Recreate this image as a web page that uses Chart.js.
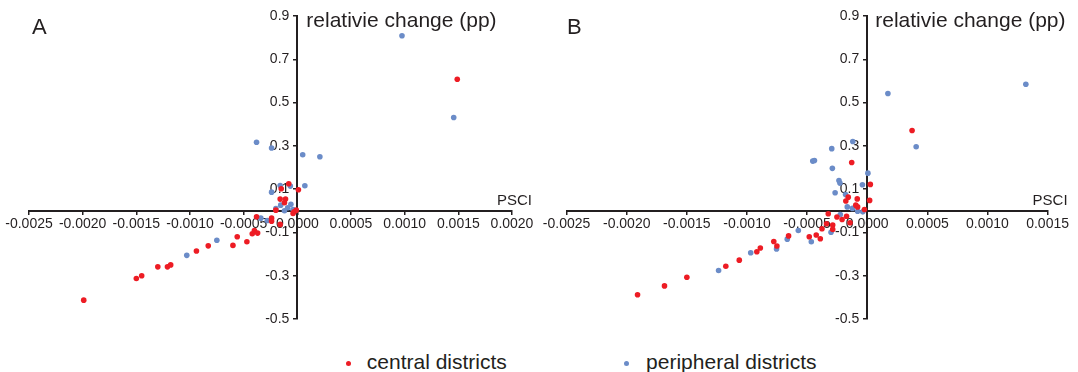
<!DOCTYPE html>
<html><head><meta charset="utf-8">
<script src="https://cdn.jsdelivr.net/npm/chart.js@4/dist/chart.umd.min.js"></script>
<style>
html,body{margin:0;padding:0;background:#fff;width:1078px;height:372px;overflow:hidden;font-family:"Liberation Sans",Arial,sans-serif;}
#a{position:absolute;left:0;top:0;}
#b{position:absolute;left:540px;top:0;}
.leg{position:absolute;top:350.5px;font-size:21px;line-height:21px;color:#231f20;white-space:nowrap;}
.dot{position:absolute;width:5px;height:5px;border-radius:50%;}
</style></head>
<body>
<canvas id="a" width="540" height="340"></canvas>
<canvas id="b" width="538" height="340"></canvas>
<div id="legend"></div>
<script>
// ---- data ----
const seriesNames = ['central districts', 'peripheral districts'];
const seriesColors = ['#ed1c24', '#6b8cc8'];
const panelLabels = ['A', 'B'];
const yTitle = 'relativie change (pp)';
const xTitle = 'PSCI';

const yTicks = [-0.5, -0.3, -0.1, 0.1, 0.3, 0.5, 0.7, 0.9];
const xTicksA = [-0.0025, -0.0020, -0.0015, -0.0010, -0.0005, 0.0000, 0.0005, 0.0010, 0.0015, 0.0020];
const xTicksB = [-0.0025, -0.0020, -0.0015, -0.0010, -0.0005, 0.0000, 0.0005, 0.0010, 0.0015];

// Panel A
const aCentralX = [0.00149, -0.00199, -0.00150, -0.00145, -0.00130, -0.00121, -0.00118, -0.00094, -0.00083, -0.00060, -0.00056, -0.00047, -0.00042, -0.00040, -0.00038, -0.00037, -0.00024, -0.00024, -0.00016, -0.00020, -0.00016, -0.00011, -0.00012, -0.00015, -0.00008, 0.00001, -0.00003, -0.00001, -0.00004];
const aCentralY = [0.608, -0.413, -0.313, -0.300, -0.259, -0.259, -0.250, -0.186, -0.162, -0.160, -0.120, -0.143, -0.106, -0.091, -0.028, -0.103, -0.034, -0.048, -0.063, 0.003, 0.054, 0.054, 0.037, 0.102, 0.125, 0.097, -0.005, 0.003, -0.012];
const aPeriphX = [0.000975, 0.001457, -0.00038, -0.00024, 0.00005, 0.00021, 0.00007, -0.000065, -0.00016, -0.00024, -0.000155, -0.00009, -0.00004, -0.00012, -0.00034, -0.00028, -0.00075, -0.00103, -0.00006, -0.00020];
const aPeriphY = [0.809, 0.431, 0.317, 0.290, 0.259, 0.250, 0.116, 0.114, 0.117, 0.086, 0.026, 0.014, 0.006, 0.000, -0.034, -0.045, -0.136, -0.206, 0.030, 0.010];

// Panel B
const bCentralX = [0.000373, -0.000129, 0.000026, 0.00002, -0.000083, -0.000158, -0.000178, -0.000095, -0.00008, -0.000023, -0.000324, -0.000252, -0.000209, -0.000172, -0.000143, -0.000287, -0.000287, -0.000376, -0.000338, -0.000482, -0.000424, -0.00039, -0.000654, -0.000777, -0.000751, -0.000889, -0.000918, -0.001064, -0.001176, -0.0015, -0.001686, -0.00191];
const bCentralY = [0.371, 0.223, 0.122, 0.048, 0.055, 0.063, 0.045, 0.026, 0.018, 0.006, -0.014, -0.029, -0.040, -0.025, -0.055, -0.066, -0.086, -0.083, -0.060, -0.120, -0.112, -0.129, -0.116, -0.142, -0.163, -0.172, -0.189, -0.228, -0.256, -0.307, -0.347, -0.388];
const bPeriphX = [0.001319, 0.000172, 0.000407, -0.00012, -0.000295, -0.000453, -0.000439, -0.00029, -0.000235, -0.000227, -0.000267, 0.0000057, -0.00004, -0.00018, -0.000166, -0.000123, -0.00008, -0.000037, -0.000224, -0.000301, -0.000465, -0.000573, -0.000665, -0.000754, -0.000969, -0.001236];
const bPeriphY = [0.585, 0.542, 0.296, 0.320, 0.287, 0.2295, 0.2326, 0.196, 0.140, 0.128, 0.083, 0.174, 0.120, 0.075, 0.018, 0.011, -0.002, -0.005, -0.017, -0.099, -0.143, -0.091, -0.131, -0.176, -0.194, -0.276];

// ---- rendering ----
const FONT = '"Liberation Sans", Arial, sans-serif';
const INK = '#231f20';
const zip = (xs, ys) => xs.map((x, i) => ({x: x, y: ys[i]}));

// y labels of an axis placed at x=0 sit flush on the axis line in Chart.js; move them left of the tick marks
const yLabelGap = {
  id: 'yLabelGap',
  afterUpdate(chart) { chart.$yShifted = false; },
  beforeDraw(chart) {
    if (chart.$yShifted) return;
    chart.scales.y.getLabelItems().forEach(it => { it.options.translation[0] -= 8; });
    chart.$yShifted = true;
  }
};

function textPlugin(letter, titleOffset, letterX) {
  return {
    id: 'panelText',
    afterDraw(chart) {
      const ctx = chart.ctx;
      const xs = chart.scales.x, ys = chart.scales.y;
      const x0 = xs.getPixelForValue(0), y0 = ys.getPixelForValue(0);
      ctx.save();
      ctx.fillStyle = INK;
      ctx.textBaseline = 'alphabetic';
      ctx.textAlign = 'left';
      ctx.font = '22px ' + FONT;
      ctx.fillText(letter, letterX, 34.3);
      ctx.font = '21px ' + FONT;
      ctx.fillText(yTitle, x0 + titleOffset, 26.8);
      ctx.font = '15px ' + FONT;
      ctx.textAlign = 'right';
      ctx.fillText(xTitle, chart.chartArea.right + 20, y0 - 5.7);
      ctx.restore();
    }
  };
}

function makeChart(id, cx, cy, px, py, xTicks, xmax, pad, letter, titleOffset, letterX) {
  const setTicks = arr => (scale) => { scale.ticks = arr.map(v => ({value: v})); };
  return new Chart(document.getElementById(id), {
    type: 'scatter',
    data: {
      datasets: [
        {label: seriesNames[0], data: zip(cx, cy), backgroundColor: seriesColors[0], borderColor: seriesColors[0], borderWidth: 0, pointRadius: 2.8, pointHoverRadius: 2.8},
        {label: seriesNames[1], data: zip(px, py), backgroundColor: seriesColors[1], borderColor: seriesColors[1], borderWidth: 0, pointRadius: 2.8, pointHoverRadius: 2.8}
      ]
    },
    options: {
      responsive: false,
      animation: false,
      devicePixelRatio: 1,
      layout: {padding: pad},
      plugins: {legend: {display: false}, tooltip: {enabled: false}},
      events: [],
      scales: {
        x: {
          type: 'linear', min: -0.0025, max: xmax,
          position: {y: 0},
          afterBuildTicks: setTicks(xTicks),
          ticks: {callback: v => Math.abs(v) < 1e-12 ? '0.0000' : Number(v).toFixed(4), font: {size: 14, family: FONT}, color: INK, padding: 2, maxRotation: 0, minRotation: 0, autoSkip: false},
          grid: {drawOnChartArea: false, drawTicks: true, tickLength: 3, color: INK, lineWidth: 1.5},
          border: {display: true, color: INK, width: 2}
        },
        y: {
          type: 'linear', min: -0.5, max: 0.9,
          position: {x: 0},
          afterBuildTicks: setTicks(yTicks),
          ticks: {callback: v => Number(v).toFixed(1), font: {size: 14, family: FONT}, color: INK, padding: 4, autoSkip: false},
          grid: {drawOnChartArea: false, drawTicks: true, tickLength: 3, color: INK, lineWidth: 1.5},
          border: {display: true, color: INK, width: 2}
        }
      }
    },
    plugins: [yLabelGap, textPlugin(letter, titleOffset, letterX)]
  });
}

makeChart('a', aCentralX, aCentralY, aPeriphX, aPeriphY, xTicksA, 0.0020, {left: 29, right: 28, top: 16, bottom: 21}, panelLabels[0], 9, 32);
makeChart('b', bCentralX, bCentralY, bPeriphX, bPeriphY, xTicksB, 0.0015, {left: 26.6, right: 30.4, top: 16, bottom: 21}, panelLabels[1], 8, 27);

// legend (HTML)
const legend = document.getElementById('legend');
const legPos = [{dot: 348.5, text: 366.8}, {dot: 626.4, text: 646.1}];
seriesNames.forEach((name, i) => {
  const d = document.createElement('div');
  d.className = 'dot';
  d.style.background = seriesColors[i];
  d.style.left = (legPos[i].dot - 2.5) + 'px';
  d.style.top = (363.3 - 2.5) + 'px';
  legend.appendChild(d);
  const t = document.createElement('div');
  t.className = 'leg';
  t.style.left = legPos[i].text + 'px';
  t.textContent = name;
  legend.appendChild(t);
});
</script>
</body></html>
